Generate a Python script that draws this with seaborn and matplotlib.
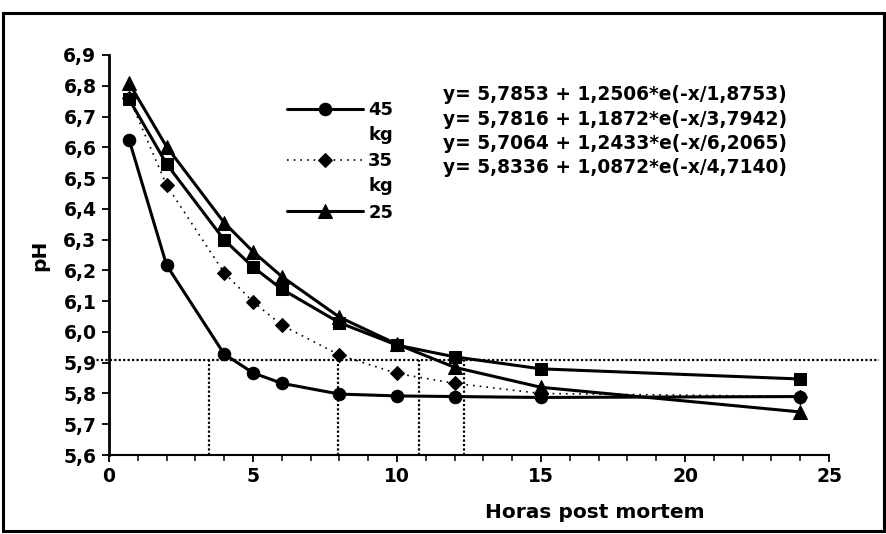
import matplotlib
matplotlib.use("Agg")
import matplotlib.pyplot as plt
import seaborn as sns
from matplotlib.patches import Rectangle
from matplotlib.ticker import MultipleLocator, FixedLocator, FixedFormatter

# ---- data ----
hours = [0.7, 2, 4, 5, 6, 8, 10, 12, 15, 24]
ph_45kg = [6.624, 6.217, 5.928, 5.867, 5.833, 5.798, 5.792, 5.79, 5.787, 5.79]
ph_35kg = [6.76, 6.477, 6.192, 6.098, 6.022, 5.925, 5.865, 5.833, 5.80, 5.79]
ph_sq = [6.756, 6.546, 6.299, 6.211, 6.139, 6.03, 5.957, 5.919, 5.88, 5.847]
ph_25kg = [6.808, 6.602, 6.355, 6.261, 6.18, 6.048, 5.96, 5.885, 5.82, 5.74]

legend_labels = ["45", "35", "25"]
equations = [
    "y= 5,7853 + 1,2506*e(-x/1,8753)",
    "y= 5,7816 + 1,1872*e(-x/3,7942)",
    "y= 5,7064 + 1,2433*e(-x/6,2065)",
    "y= 5,8336 + 1,0872*e(-x/4,7140)",
]
ref_ph = 5.91
ref_hours = [3.47, 7.95, 10.77, 12.33]
y_ticks = [5.6, 5.7, 5.8, 5.9, 6.0, 6.1, 6.2, 6.3, 6.4, 6.5, 6.6, 6.7, 6.8, 6.9]
y_ticklabels = ["5,6", "5,7", "5,8", "5,9", "6,0", "6,1", "6,2", "6,3",
                "6,4", "6,5", "6,6", "6,7", "6,8", "6,9"]
x_ticks = [0, 5, 10, 15, 20, 25]
x_ticklabels = ["0", "5", "10", "15", "20", "25"]

sns.set_theme(style="white")
plt.rcParams['font.family'] = ['DejaVu Sans']
plt.rcParams['font.weight'] = 'bold'

W, H = 886, 534
fig = plt.figure(figsize=(W / 100, H / 100), dpi=100)
fig.patch.set_facecolor("white")
ax = fig.add_axes([109 / W, 1 - 455 / H, 720 / W, 400 / H])
ax.set_facecolor("white")

series = [
    (ph_45kg, "o", "-", 9, 2.2),
    (ph_35kg, "D", (0, (1, 3)), 7.5, 1.2),
    (ph_sq, "s", "-", 8.5, 2.2),
    (ph_25kg, "^", "-", 9.5, 2.2),
]
handles = []
for vals, mk, ls, ms, lw in series:
    sns.lineplot(x=hours, y=vals, ax=ax, color="black", marker=mk,
                 linestyle=ls, markersize=ms, linewidth=lw,
                 markeredgecolor="black", markerfacecolor="black",
                 legend=False, clip_on=False, zorder=3)
    handles.append(ax.lines[-1])

# reference lines
ax.axhline(ref_ph, xmin=-0.024, xmax=1.07, color="black",
           linestyle=(0, (1, 1)), linewidth=1.6, clip_on=False, zorder=2)
ax.vlines(ref_hours, 5.6, ref_ph, color="black", linestyle=(0, (1, 1)),
          linewidth=1.6, zorder=2)

ax.set_xlim(0, 25)
ax.set_ylim(5.6, 6.9)
ax.xaxis.set_major_locator(FixedLocator(x_ticks))
ax.xaxis.set_major_formatter(FixedFormatter(x_ticklabels))
ax.xaxis.set_minor_locator(MultipleLocator(1))
ax.yaxis.set_major_locator(FixedLocator(y_ticks))
ax.yaxis.set_major_formatter(FixedFormatter(y_ticklabels))
ax.tick_params(axis="both", which="major", direction="out", length=5,
               width=1.3, color="black", labelsize=13.5, labelcolor="black",
               bottom=True, left=True, pad=4)
ax.tick_params(axis="x", which="minor", direction="out", length=4,
               width=1.1, color="black", bottom=True)
for lab in ax.get_xticklabels() + ax.get_yticklabels():
    lab.set_fontweight("bold")

for s in ["top", "right"]:
    ax.spines[s].set_visible(False)
ax.spines["left"].set_color("black")
ax.spines["left"].set_linewidth(2)
ax.spines["bottom"].set_color("black")
ax.spines["bottom"].set_linewidth(1.5)

ax.set_xlabel("Horas post mortem", fontsize=14.5, fontweight="bold", color="black")
ax.xaxis.set_label_coords(0.675, -0.12)
ax.set_ylabel("pH", fontsize=14.5, fontweight="bold", color="black")
ax.yaxis.set_label_coords(-0.083, 0.5)

# legend (the square series has no entry in the reference)
leg = fig.legend([handles[0], handles[1], handles[3]], legend_labels,
                 loc="upper left", bbox_to_anchor=(287 / W, 1 - 101 / H),
                 frameon=False, borderpad=0, borderaxespad=0,
                 handlelength=4.2, handletextpad=0.3, labelspacing=1.85,
                 numpoints=1, prop={"size": 13, "weight": "bold"})
for t in leg.get_texts():
    t.set_color("black")
for yy in [135, 186]:
    fig.text(368 / W, 1 - yy / H, "kg", fontsize=13, fontweight="bold",
             va="center", ha="left", color="black")

for i, eq in enumerate(equations):
    fig.text(443 / W, 1 - (95 + 24.3 * i) / H, eq, fontsize=13.4,
             fontweight="bold", va="center", ha="left", color="black")

# figure frame
fig.patches.append(Rectangle((3 / W, 3 / H), 881 / W, 1 - 16 / H,
                             transform=fig.transFigure, fill=False,
                             edgecolor="black", linewidth=2.2))

fig.savefig("out.png", dpi=100)
